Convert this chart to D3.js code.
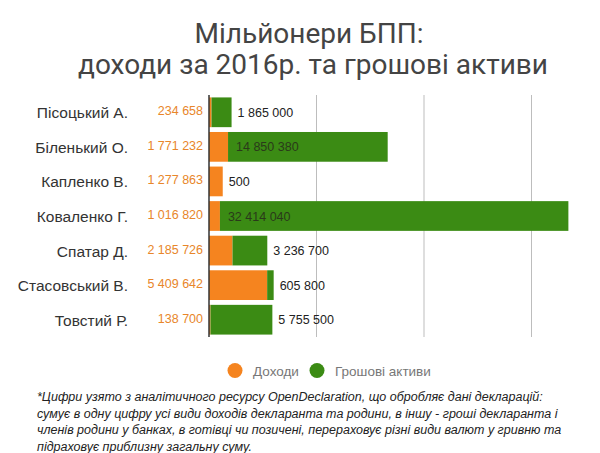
<!DOCTYPE html>
<html>
<head>
<meta charset="utf-8">
<script src="https://cdn.jsdelivr.net/npm/d3@7"></script>
<style>
  html, body { margin: 0; padding: 0; background: #fff; }
  svg { display: block; }
</style>
</head>
<body>
<svg id="chart" width="600" height="453"></svg>
<script>
// ---- data ----
const names = ["Пісоцький А.", "Біленький О.", "Капленко В.", "Коваленко Г.", "Спатар Д.", "Стасовський В.", "Товстий Р."];
const income = [234658, 1771232, 1277863, 1016820, 2185726, 5409642, 138700];
const cash = [1865000, 14850380, 500, 32414040, 3236700, 605800, 5755500];
const gridTicks = [0, 10000000, 20000000, 30000000];
const seriesNames = ["Доходи", "Грошові активи"];
const titleLines = ["Мільйонери БПП:", "доходи за 2016р. та грошові активи"];
const noteLines = [
  "*Цифри узято з аналітичного ресурсу OpenDeclaration, що обробляє дані декларацій:",
  "сумує в одну цифру усі види доходів декларанта та родини, в іншу - гроші декларанта і",
  "членів родини у банках, в готівці чи позичені, перераховує різні види валют у гривню та",
  "підраховує приблизну загальну суму."
];

const colors = { income: "#f5841f", cash: "#3b8b14" };
const fmt = v => d3.format(",")(v).replace(/,/g, " ");

const svg = d3.select("#chart");

// title
const titleX = [309, 313];
svg.append("g").selectAll("text").data(titleLines).join("text")
  .attr("x", (d, i) => titleX[i]).attr("y", (d, i) => 43 + i * 31)
  .attr("text-anchor", "middle")
  .attr("font-family", "Roboto, sans-serif")
  .attr("font-weight", 400)
  .attr("font-size", 28)
  .attr("fill", "#444")
  .text(d => d);

// scales
const x = d3.scaleLinear().domain([0, 10000000]).range([209, 316.5]);
const y = d3.scaleBand().domain(names).range([95, 337]).paddingInner(0.14).paddingOuter(0.07);

// grid
svg.append("g").selectAll("line").data(gridTicks.slice(1)).join("line")
  .attr("x1", d => x(d)).attr("x2", d => x(d))
  .attr("y1", 95).attr("y2", 337)
  .attr("stroke", "#bdbdbd").attr("stroke-width", 1);

// bars
const rows = names.map((n, i) => ({ name: n, inc: income[i], cash: cash[i] }));
const g = svg.append("g");
g.selectAll("rect.inc").data(rows).join("rect").attr("class", "inc")
  .attr("x", x(0)).attr("y", d => y(d.name))
  .attr("width", d => x(d.inc) - x(0)).attr("height", y.bandwidth())
  .attr("fill", colors.income);
g.selectAll("rect.cash").data(rows).join("rect").attr("class", "cash")
  .attr("x", d => x(d.inc)).attr("y", d => y(d.name))
  .attr("width", d => x(d.inc + d.cash) - x(d.inc)).attr("height", y.bandwidth())
  .attr("fill", colors.cash);

// axis line
svg.append("line").attr("x1", 209).attr("x2", 209).attr("y1", 95).attr("y2", 337)
  .attr("stroke", "#333").attr("stroke-width", 1.5);

// name labels
svg.append("g").selectAll("text").data(rows).join("text")
  .attr("x", 128).attr("y", d => y(d.name) + y.bandwidth() / 2 + 6)
  .attr("text-anchor", "end")
  .attr("font-family", "'Liberation Sans', Arial, sans-serif")
  .attr("font-size", 15.5)
  .attr("fill", "#333")
  .text(d => d.name);

// income labels
svg.append("g").selectAll("text").data(rows).join("text")
  .attr("x", 203).attr("y", d => y(d.name) + y.bandwidth() / 2 + 3)
  .attr("text-anchor", "end")
  .attr("font-family", "'Liberation Sans', Arial, sans-serif")
  .attr("font-size", 12.5)
  .attr("fill", "#e8862a")
  .text(d => fmt(d.inc));

// cash labels
svg.append("g").selectAll("text").data(rows).join("text")
  .attr("x", d => (x(d.inc + d.cash) - x(d.inc) > 100) ? x(d.inc) + 8 : x(d.inc + d.cash) + 6)
  .attr("y", d => y(d.name) + y.bandwidth() / 2 + 4.5)
  .attr("font-family", "'Liberation Sans', Arial, sans-serif")
  .attr("font-size", 12.5)
  .attr("fill", d => (x(d.inc + d.cash) - x(d.inc) > 100) ? "#2a3a1a" : "#222")
  .text(d => fmt(d.cash));

// legend
const legX = [235, 317];
const leg = svg.append("g").selectAll("g").data(seriesNames).join("g")
  .attr("transform", (d, i) => `translate(${legX[i]},370.5)`);
leg.append("circle").attr("r", 7.5).attr("fill", (d, i) => i === 0 ? colors.income : colors.cash);
leg.append("text").attr("x", 18).attr("y", 5)
  .attr("font-family", "'Liberation Sans', Arial, sans-serif")
  .attr("font-size", 13.5).attr("fill", "#777").text(d => d);

// footnote
svg.append("g").selectAll("text").data(noteLines).join("text")
  .attr("x", 37).attr("y", (d, i) => 401 + i * 16.7)
  .attr("font-family", "'Liberation Sans', Arial, sans-serif")
  .attr("font-style", "italic")
  .attr("font-size", 12.5)
  .attr("fill", "#222")
  .text(d => d);
</script>
</body>
</html>
